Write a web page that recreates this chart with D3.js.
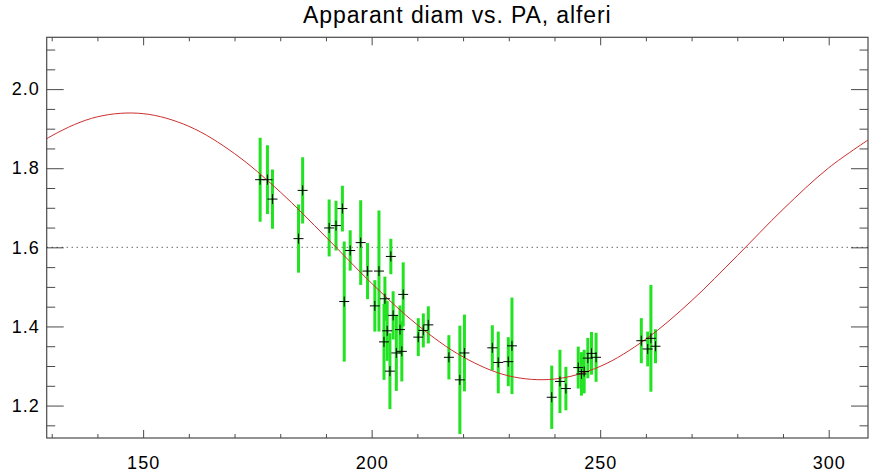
<!DOCTYPE html>
<html>
<head>
<meta charset="utf-8">
<script src="https://cdn.jsdelivr.net/npm/d3@7/dist/d3.min.js"></script>
<style>
  body { margin: 0; background: #fff; }
  text { font-family: "Liberation Sans", Arial, sans-serif; fill: #000; }
</style>
</head>
<body>
<div id="chart"></div>
<script>
var pa = [175.6, 177.2, 178.3, 184.0, 184.9, 190.7, 192.2, 193.6, 194.0, 195.3,
          197.6, 199.1, 200.7, 201.6, 202.9, 202.7, 203.4, 204.0, 204.2, 204.7,
          205.4, 206.2, 206.6, 206.9, 210.2, 211.3, 212.4, 216.9, 219.3, 220.3,
          226.4, 227.7, 229.9, 230.7, 239.4, 241.2, 242.5, 245.2, 245.9, 246.5,
          247.3, 248.1, 249.1, 259.0, 260.4, 261.1, 262.1];
var diam = [1.771, 1.771, 1.722, 1.622, 1.744, 1.649, 1.655, 1.698, 1.463, 1.592,
            1.612, 1.540, 1.452, 1.540, 1.470, 1.361, 1.389, 1.287, 1.577, 1.428,
            1.333, 1.392, 1.337, 1.481, 1.373, 1.390, 1.404, 1.322, 1.265, 1.333,
            1.346, 1.309, 1.311, 1.351, 1.221, 1.261, 1.243, 1.296, 1.280, 1.286,
            1.320, 1.332, 1.322, 1.364, 1.343, 1.370, 1.350];
var diamErr = [0.106, 0.087, 0.075, 0.086, 0.084, 0.072, 0.063, 0.058, 0.152, 0.051,
               0.107, 0.071, 0.065, 0.153, 0.056, 0.096, 0.076, 0.096, 0.045, 0.061,
               0.096, 0.061, 0.076, 0.081, 0.048, 0.043, 0.047, 0.056, 0.137, 0.097,
               0.057, 0.078, 0.062, 0.122, 0.080, 0.080, 0.055, 0.053, 0.055, 0.055,
               0.051, 0.054, 0.062, 0.057, 0.044, 0.135, 0.043];

// fitted curve, read every 10 deg
var fitPA = [120, 130, 140, 150, 160, 170, 180, 190, 200, 210,
             220, 230, 240, 250, 260, 270, 280, 290, 300, 310];
var fitDiam = [1.801, 1.882, 1.930, 1.938, 1.906, 1.837, 1.740, 1.626, 1.509, 1.404,
               1.323, 1.275, 1.267, 1.299, 1.368, 1.465, 1.579, 1.696, 1.801, 1.882];

var meanDiam = 1.6;

var xMajor = [150, 200, 250, 300];
var yMajor = [1.2, 1.4, 1.6, 1.8, 2.0];

var svgWidth = 875;
var svgHeight = 475;
var margin = { top: 37.3, right: 7, bottom: 37, left: 46.7 };
var width = svgWidth - margin.left - margin.right;
var height = svgHeight - margin.top - margin.bottom;

var svg = d3.select("#chart").append("svg")
    .attr("width", svgWidth)
    .attr("height", svgHeight)
    .style("background", "#fff");

var chartGroup = svg.append("g")
    .attr("transform", `translate(${margin.left}, ${margin.top})`);

var x = d3.scaleLinear().domain([128.9, 308.6]).range([0, width]);
var y = d3.scaleLinear().domain([1.118, 2.131]).range([height, 0]);

var xMinor = d3.range(130, 310, 10).filter(v => xMajor.indexOf(v) < 0);
var yMinor = d3.range(23, 43).map(v => v * 0.05).filter(v => Math.abs(v * 5 - Math.round(v * 5)) > 0.01);

svg.append("defs").append("clipPath").attr("id", "clip")
    .append("rect").attr("width", width).attr("height", height);

var axisColor = "#4a4a4a";

function styleAxis(g) {
    g.select(".domain").remove();
    g.selectAll(".tick line").attr("stroke", axisColor);
    g.selectAll(".tick text").attr("font-size", 18).attr("letter-spacing", 1);
}

// bottom / top
chartGroup.append("g").attr("transform", `translate(0, ${height})`)
    .call(d3.axisBottom(x).tickValues(xMajor).tickSize(-8).tickPadding(18).tickFormat(d3.format("d")))
    .call(styleAxis);
chartGroup.append("g").attr("transform", `translate(0, ${height})`)
    .call(d3.axisBottom(x).tickValues(xMinor).tickSize(-4).tickFormat(""))
    .call(styleAxis);
chartGroup.append("g")
    .call(d3.axisTop(x).tickValues(xMajor).tickSize(-8).tickFormat(""))
    .call(styleAxis);
chartGroup.append("g")
    .call(d3.axisTop(x).tickValues(xMinor).tickSize(-4).tickFormat(""))
    .call(styleAxis);

// left / right
chartGroup.append("g")
    .call(d3.axisLeft(y).tickValues(yMajor).tickSize(-17).tickPadding(7).tickFormat(d3.format(".1f")))
    .call(styleAxis);
chartGroup.append("g")
    .call(d3.axisLeft(y).tickValues(yMinor).tickSize(-8.5).tickFormat(""))
    .call(styleAxis);
chartGroup.append("g").attr("transform", `translate(${width}, 0)`)
    .call(d3.axisRight(y).tickValues(yMajor).tickSize(-17).tickFormat(""))
    .call(styleAxis);
chartGroup.append("g").attr("transform", `translate(${width}, 0)`)
    .call(d3.axisRight(y).tickValues(yMinor).tickSize(-8.5).tickFormat(""))
    .call(styleAxis);

// frame
chartGroup.append("rect")
    .attr("width", width).attr("height", height)
    .attr("fill", "none").attr("stroke", axisColor).attr("stroke-width", 1.2);

var plotArea = chartGroup.append("g").attr("clip-path", "url(#clip)");

// dotted mean line
plotArea.append("line")
    .attr("x1", 0).attr("x2", width)
    .attr("y1", y(meanDiam)).attr("y2", y(meanDiam))
    .attr("stroke", "#222").attr("stroke-width", 1)
    .attr("stroke-dasharray", "1,4");

var pts = pa.map((d, i) => ({ pa: d, diam: diam[i], err: diamErr[i] }));

// error bars
plotArea.selectAll(".err").data(pts).enter().append("line")
    .attr("class", "err")
    .attr("x1", d => x(d.pa)).attr("x2", d => x(d.pa))
    .attr("y1", d => y(d.diam - d.err)).attr("y2", d => y(d.diam + d.err))
    .attr("stroke", "#22e322").attr("stroke-width", 3);

// fit
var line = d3.line()
    .x((d, i) => x(fitPA[i]))
    .y(d => y(d))
    .curve(d3.curveCatmullRom);
plotArea.append("path")
    .datum(fitDiam)
    .attr("d", line)
    .attr("fill", "none")
    .attr("stroke", "#cc2e2e")
    .attr("stroke-width", 1);

// plus symbols
plotArea.selectAll(".pt").data(pts).enter().append("path")
    .attr("class", "pt")
    .attr("d", d => `M${x(d.pa) - 5},${y(d.diam)}h10M${x(d.pa)},${y(d.diam) - 5}v10`)
    .attr("stroke", "#000").attr("stroke-width", 1)
    .attr("fill", "none");

// title
svg.append("text")
    .attr("x", margin.left + width / 2)
    .attr("y", 23)
    .attr("text-anchor", "middle")
    .attr("font-size", 23)
    .attr("letter-spacing", 0.9)
    .text("Apparant diam vs. PA, alferi");
</script>
</body>
</html>
